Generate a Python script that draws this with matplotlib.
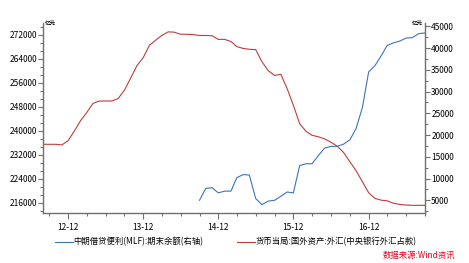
import numpy as np
import pandas as pd
import matplotlib
matplotlib.use('Agg')
import matplotlib.pyplot as plt
import matplotlib.dates as mdates
from matplotlib.ticker import MultipleLocator, AutoMinorLocator

plt.rcParams['font.family'] = ['Noto Sans CJK SC', 'DejaVu Sans']

# monthly data, 2012-08 .. 2017-09 (亿元)
months = pd.date_range('2012-08-01', '2017-09-01', freq='MS')

fx_reserves = [
    235500, 235500, 235500, 235300, 236700, 240000, 243500, 246000,
    249100, 249900, 249900, 249900, 250700, 253500, 257500, 261700,
    264300, 268500, 270200, 271700, 272900, 272800, 272100, 272100,
    272000, 271700, 271700, 271600, 270400, 270400, 269700, 268000,
    267400, 267100, 267000, 263000, 260000, 258400, 258800, 254000,
    248500, 242300, 239800, 238500, 238000, 237300, 236200, 234900,
    232800, 229700, 226700, 223000, 219400, 217500, 216900, 216700,
    215900, 215500, 215300, 215200, 215200, 215200,
]

# MLF starts 2014-09
mlf_months = pd.date_range('2014-09-01', '2017-09-01', freq='MS')
mlf_balance = [
    5000, 7700, 7900, 6700, 7100, 7100, 10200, 10900, 10800, 5400,
    4000, 4800, 5000, 5900, 6900, 6700, 13000, 13400, 13400, 15300,
    17000, 17400, 17400, 17900, 18900, 21500, 26400, 34500, 36000,
    38300, 40600, 41200, 41600, 42300, 42400, 43300, 43500,
]

mlf_label = '中期借贷便利(MLF):期末余额(右轴)'
fx_label = '货币当局:国外资产:外汇(中央银行外汇占款)'
source = '数据来源:Wind资讯'

red = '#c23b3b'
blue = '#3d72c0'
spine_c = '#707070'

fig = plt.figure(figsize=(4.69, 2.63), dpi=100)
ax = fig.add_axes([43 / 469, 1 - 213.3 / 263, (425 - 43) / 469, 190 / 263])
ax2 = ax.twinx()

l_fx, = ax.plot(months, fx_reserves, color=red, lw=0.8)
l_mlf, = ax2.plot(mlf_months, mlf_balance, color=blue, lw=0.8)

ax.set_xlim(pd.Timestamp('2012-08-01'), pd.Timestamp('2017-09-01'))
ax.set_ylim(212550, 275750)
ax2.set_ylim(2000, 45700)

ax.yaxis.set_major_locator(MultipleLocator(8000))
ax.yaxis.set_minor_locator(AutoMinorLocator(3))
ax2.yaxis.set_major_locator(MultipleLocator(5000))
ax2.yaxis.set_minor_locator(AutoMinorLocator(2))
ax.xaxis.set_major_locator(mdates.MonthLocator(bymonth=12))
ax.xaxis.set_minor_locator(mdates.MonthLocator(bymonth=[3, 6, 9, 12]))
ax.xaxis.set_major_formatter(mdates.DateFormatter('%y-%m'))

for a in (ax, ax2):
    a.spines['top'].set_visible(False)
    for s in ('left', 'right', 'bottom'):
        a.spines[s].set_color(spine_c)
        a.spines[s].set_linewidth(1.0)
    a.tick_params(which='both', color=spine_c, labelsize=6, width=0.8,
                  labelcolor='black')
ax.spines['right'].set_visible(False)
ax2.spines['left'].set_visible(False)
ax2.spines['bottom'].set_visible(False)

ax.tick_params(axis='y', which='major', length=3.5, pad=0.5)
ax.tick_params(axis='y', which='minor', length=2.5)
ax2.tick_params(axis='y', which='major', length=3.5, pad=1)
ax2.tick_params(axis='y', which='minor', length=2.5)
ax.tick_params(axis='x', which='major', length=4, pad=3)
ax.tick_params(axis='x', which='minor', length=2.5)

ax.text(0.005, 1.0, '亿元', transform=ax.transAxes, fontsize=4,
        ha='left', va='center', fontweight='bold')
ax.text(0.995, 1.0, '亿元', transform=ax.transAxes, fontsize=4,
        ha='right', va='center', fontweight='bold')

fig.legend([l_mlf, l_fx], [mlf_label, fx_label], loc='center left',
           bbox_to_anchor=(55 / 469, 1 - 242 / 263), ncol=2, frameon=False,
           fontsize=6, borderpad=0, borderaxespad=0, handlelength=2.1,
           handletextpad=0.15, columnspacing=4.0)

fig.text(455 / 469, 1 - 255 / 263, source, color='#e0001b', fontsize=6,
         style='italic', ha='right', va='center')

fig.savefig('out.png', dpi=100)
